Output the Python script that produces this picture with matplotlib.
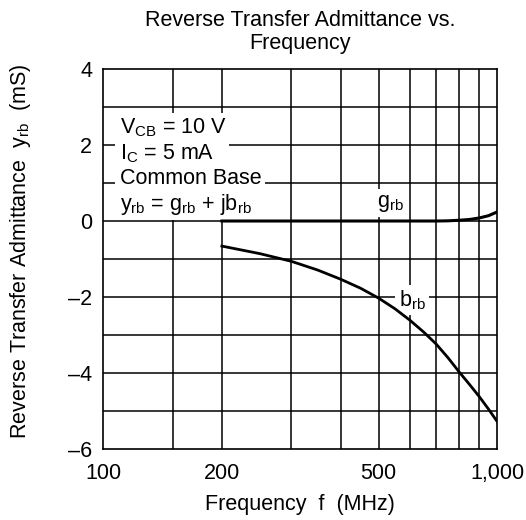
import matplotlib.pyplot as plt
from matplotlib.patches import Rectangle

plt.rcParams['font.family'] = ['Liberation Sans', 'DejaVu Sans']
plt.rcParams['mathtext.fontset'] = 'custom'
plt.rcParams['mathtext.rm'] = 'Liberation Sans'
plt.rcParams['mathtext.default'] = 'regular'

# curve data (MHz, mS)
b_freq = [200, 250, 300, 350, 400, 450, 500, 550, 600, 650, 700, 750, 800, 850, 900, 950, 1000]
b_rb = [-0.66, -0.86, -1.06, -1.29, -1.53, -1.77, -2.03, -2.31, -2.61, -2.92, -3.24,
        -3.6, -3.97, -4.3, -4.62, -4.95, -5.28]
g_freq = [200, 700, 750, 800, 850, 900, 950, 1000]
g_rb = [0, 0, 0.005, 0.02, 0.04, 0.08, 0.14, 0.24]

x_ticks = [100, 200, 500, 1000]
x_labels = ['100', '200', '500', '1,000']
x_grid = [150, 200, 300, 400, 500, 600, 700, 800, 900]
y_ticks = [-6, -4, -2, 0, 2, 4]
y_grid = [-5, -4, -3, -2, -1, 0, 1, 2, 3]

conditions = [r'V$_{CB}$ = 10 V', r'I$_{C}$ = 5 mA', 'Common Base',
              r'y$_{rb}$ = g$_{rb}$ + jb$_{rb}$']
cond_y = [2.31, 1.63, 0.97, 0.29]

fs = 15.5

fig = plt.figure(figsize=(5.26, 5.2), dpi=100)
ax = fig.add_axes([0.1964, 0.1365, 0.749, 0.7308])

ax.set_xscale('log')
ax.set_xlim(100, 1000)
ax.set_ylim(-6, 4)

for x in x_grid:
    ax.axvline(x, color='black', lw=1.1, zorder=1)
for y in y_grid:
    ax.axhline(y, color='black', lw=1.1, zorder=1)

ax.plot(g_freq, g_rb, color='black', lw=2.2, zorder=5)
ax.plot(b_freq, b_rb, color='black', lw=2.0, zorder=5)

ax.set_xticks(x_ticks)
ax.set_xticklabels(x_labels)
ax.xaxis.set_minor_locator(plt.NullLocator())
ax.set_yticks(y_ticks)
ax.set_yticklabels([str(v).replace('-', '\u2013') for v in y_ticks])
ax.tick_params(length=0, labelsize=fs)
ax.tick_params(axis='x', pad=10)
ax.tick_params(axis='y', pad=8)

for sp in ax.spines.values():
    sp.set_linewidth(1.2)

# white area behind the condition text block
ax.add_patch(Rectangle((0.03, 0.61), 0.29, 0.275, transform=ax.transAxes,
                       facecolor='white', edgecolor='none', zorder=3))
box = dict(facecolor='white', edgecolor='none', pad=2.5)
for s, y in zip(conditions, cond_y):
    ax.text(110.5, y, s, fontsize=fs, va='baseline', ha='left', bbox=box, zorder=4)

ax.text(495, 0.47, r'g$_{rb}$', fontsize=fs, va='center', ha='left', bbox=box, zorder=4)
ax.text(562, -2.08, r'b$_{rb}$', fontsize=fs, va='center', ha='left', bbox=box, zorder=4)

ax.set_xlabel('Frequency  f  (MHz)', fontsize=fs, labelpad=7)
ax.set_ylabel(r'Reverse Transfer Admittance  y$_{rb}$  (mS)', fontsize=fs)
ax.yaxis.set_label_coords(-0.178, 0.52)
ax.set_title('Reverse Transfer Admittance vs.\nFrequency', fontsize=fs, pad=14.5,
             linespacing=1.1)

plt.savefig('out.png', dpi=100)
